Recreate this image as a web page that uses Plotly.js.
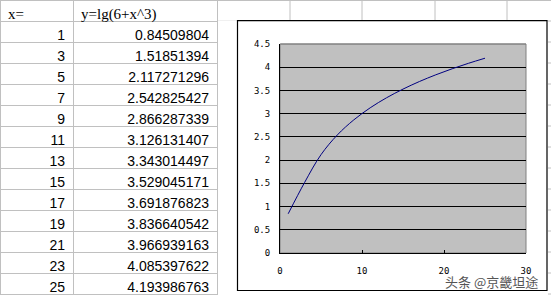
<!DOCTYPE html>
<html><head><meta charset="utf-8">
<script src="https://cdn.plot.ly/plotly-3.0.1.min.js"></script>
<style>html,body{margin:0;padding:0;background:#fff;}#chart{width:551px;height:295px;}</style>
</head><body><div id="chart"></div>
<script>
// ---- data ----
const headerLabels = ['x=', 'y=lg(6+x^3)'];
const xValues = [1, 3, 5, 7, 9, 11, 13, 15, 17, 19, 21, 23, 25];
const yValues = [0.84509804, 1.51851394, 2.117271296, 2.542825427, 2.866287339, 3.126131407,
  3.343014497, 3.529045171, 3.691876823, 3.836640542, 3.966939163, 4.085397622, 4.193986763];
const watermark = '头条 @京畿坦途';

// ---- geometry helpers (pixels -> paper) ----
const W = 551, H = 295;
const px = x => x / W;
const py = y => 1 - y / H;
const GRID = '#c0c0c0';

const shapes = [];
// spreadsheet grid outside the table columns
[290, 362, 435, 507].forEach(x => shapes.push({type:'line', layer:'below', xref:'paper', yref:'paper',
  x0:px(x), x1:px(x), y0:py(0), y1:py(21), line:{color:GRID, width:1}}));
shapes.push({type:'line', layer:'below', xref:'paper', yref:'paper', x0:px(217), x1:1, y0:py(0.5), y1:py(0.5), line:{color:GRID, width:1}});
for (let k = 1; k <= 14; k++) {
  shapes.push({type:'line', layer:'below', xref:'paper', yref:'paper', x0:px(217), x1:1, y0:py(21*k), y1:py(21*k), line:{color:GRID, width:1}});
}
// chart object: white area + black border
shapes.push({type:'rect', layer:'below', xref:'paper', yref:'paper', x0:px(217.5), x1:px(548), y0:0, y1:py(20.5),
  fillcolor:'#ffffff', line:{width:0}});
shapes.push({type:'rect', layer:'below', xref:'paper', yref:'paper', x0:px(237.5), x1:px(547), y0:py(290.5), y1:py(20.7),
  fillcolor:'#ffffff', line:{color:'#000000', width:1.2}});
// plot area
shapes.push({type:'rect', layer:'below', xref:'paper', yref:'paper', x0:px(280), x1:px(526), y0:py(253), y1:py(44),
  fillcolor:'#c0c0c0', line:{color:'#808080', width:1}});
shapes.push({type:'line', layer:'above', xref:'paper', yref:'paper', x0:px(280.5), x1:px(526), y0:py(44), y1:py(44),
  line:{color:'#808080', width:1}});

const tickFont = {family:'DejaVu Sans Mono', size:9, color:'#000'};

const data = [
  {
    type:'table',
    domain:{x:[0, px(217)], y:[0, 1]},
    columnwidth:[73, 144],
    header:{values:headerLabels, align:'left', height:21,
      line:{color:GRID, width:1}, fill:{color:'#ffffff'},
      font:{family:'Liberation Serif', size:15, color:'#000'}},
    cells:{values:[xValues, yValues], align:'right', height:21,
      line:{color:GRID, width:1}, fill:{color:'#ffffff'},
      font:{family:'Liberation Sans', size:14, color:'#000'}}
  },
  {
    type:'scatter', mode:'lines', x:xValues, y:yValues,
    line:{color:'#000080', width:1, shape:'spline', smoothing:1},
    hoverinfo:'skip'
  }
];

const layout = {
  width:W, height:H,
  margin:{l:0, r:0, t:0, b:0},
  paper_bgcolor:'#ffffff', plot_bgcolor:'rgba(0,0,0,0)',
  showlegend:false,
  xaxis:{domain:[px(280), px(526)], range:[0, 30], dtick:10, tick0:0,
    showgrid:false, zeroline:false, showline:true, linecolor:'#000', linewidth:1,
    ticks:'inside', ticklen:3, tickcolor:'#000', tickfont:tickFont, ticklabelstandoff:9, fixedrange:true},
  yaxis:{domain:[py(253), py(44)], range:[0, 4.5], dtick:0.5, tick0:0,
    showgrid:true, gridcolor:'#000', gridwidth:1, zeroline:false,
    showline:true, linecolor:'#000', linewidth:1, ticks:'', tickfont:tickFont, ticklabelstandoff:7, fixedrange:true},
  shapes:shapes,
  annotations:[{text:watermark, xref:'paper', yref:'paper', x:px(491), y:py(281),
    xanchor:'center', yanchor:'middle', showarrow:false,
    font:{family:'Noto Sans CJK SC', size:13, color:'#555555'}}]
};

Plotly.newPlot('chart', data, layout, {staticPlot:true, displayModeBar:false});
</script>
</body></html>
